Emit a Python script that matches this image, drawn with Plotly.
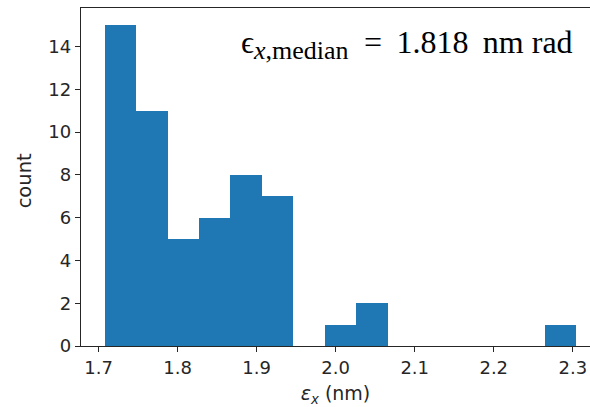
import numpy as np
import plotly.graph_objects as go

# Histogram data
bin_min = 1.7076
bin_max = 2.3046
counts = [15, 11, 5, 6, 8, 7, 0, 1, 2, 0, 0, 0, 0, 0, 1]
x_ticks = [1.7, 1.8, 1.9, 2.0, 2.1, 2.2, 2.3]
x_tick_labels = ["1.7", "1.8", "1.9", "2.0", "2.1", "2.2", "2.3"]
y_ticks = [0, 2, 4, 6, 8, 10, 12, 14]
median_value = 1.818

edges = np.linspace(bin_min, bin_max, len(counts) + 1)
centers = (edges[:-1] + edges[1:]) / 2
widths = np.diff(edges)

fig = go.Figure(
    go.Bar(
        x=centers,
        y=counts,
        width=widths,
        marker=dict(color="#1f77b4", line=dict(width=0)),
        hoverinfo="x+y",
    )
)

span = bin_max - bin_min
x_lo = bin_min - 0.05 * span

axis_color = "#262626"
tick_font = dict(family="DejaVu Sans", size=18, color="#262626")
serif = "Liberation Serif"

nb = "&nbsp;"
thin = "\u2009"
main_text = "=" + nb + thin + "%.3f" % median_value + nb + thin + "nm" + nb + "rad"


def paper_ann(text, x, y, size, xanchor="right", yanchor="middle", family=serif, angle=0, color="black"):
    return dict(
        text=text,
        xref="paper",
        yref="paper",
        x=x,
        y=y,
        xanchor=xanchor,
        yanchor=yanchor,
        textangle=angle,
        showarrow=False,
        font=dict(family=family, size=size, color=color),
    )


fig.update_layout(
    width=590,
    height=407,
    margin=dict(l=81, r=0, t=8, b=61, autoexpand=False),
    paper_bgcolor="white",
    plot_bgcolor="white",
    showlegend=False,
    bargap=0,
    xaxis=dict(
        range=[x_lo, 2.3218],
        automargin=False,
        tickmode="array",
        tickvals=x_ticks,
        ticktext=x_tick_labels,
        ticks="outside",
        ticklen=5,
        tickwidth=1.2,
        tickcolor=axis_color,
        showline=True,
        linecolor=axis_color,
        linewidth=1.3,
        mirror=True,
        showgrid=False,
        zeroline=False,
        tickfont=tick_font,
        title=dict(
            text="<i>ε</i><sub><i>x</i></sub> (nm)",
            font=dict(family="DejaVu Sans", size=19, color="#262626"),
            standoff=10,
        ),
    ),
    yaxis=dict(
        range=[0, 15.8],
        automargin=False,
        tickmode="array",
        tickvals=y_ticks,
        ticks="outside",
        ticklen=5,
        tickwidth=1.2,
        tickcolor=axis_color,
        showline=True,
        linecolor=axis_color,
        linewidth=1.3,
        showgrid=False,
        zeroline=False,
        tickfont=tick_font,
    ),
    annotations=[
        paper_ann("ϵ", 0.3438, 0.899, 32),
        paper_ann("<i>x</i>,median", 0.5305, 0.874, 26),
        paper_ann(main_text, 0.9705, 0.899, 32),
        paper_ann("count", -0.112, 0.49, 19.5, xanchor="center",
                  family="DejaVu Sans", angle=-90, color="#262626"),
    ],
)

fig.write_html(
    "out.html",
    config={"displayModeBar": False},
    post_script="document.body.style.margin='0';document.body.style.overflow='hidden';",
)
